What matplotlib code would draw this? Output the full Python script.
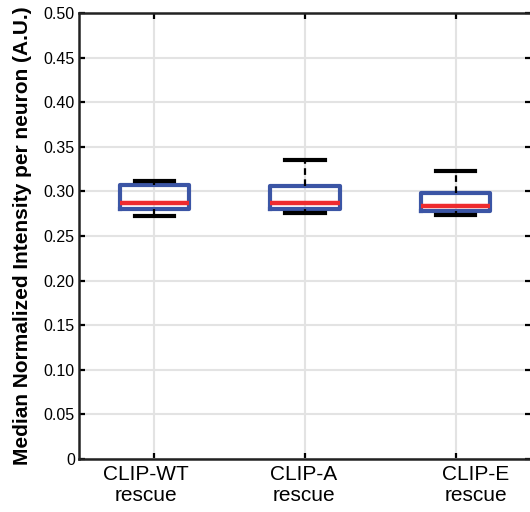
import matplotlib.pyplot as plt

groups = ["CLIP-WT\nrescue", "CLIP-A\nrescue", "CLIP-E\nrescue"]
q1 = [0.2807, 0.2800, 0.2784]
medians = [0.2874, 0.2874, 0.2840]
q3 = [0.3070, 0.3060, 0.2980]
whisker_low = [0.2725, 0.2755, 0.2736]
whisker_high = [0.3115, 0.3350, 0.3234]
y_ticks = [0, 0.05, 0.10, 0.15, 0.20, 0.25, 0.30, 0.35, 0.40, 0.45, 0.50]
positions = [1, 2, 3]

plt.rcParams["font.family"] = ["Liberation Sans", "DejaVu Sans"]

BLUE = "#3b55a5"
RED = "#ee2b2e"

fig = plt.figure(figsize=(5.3, 5.12), dpi=100)
ax = fig.add_axes([0.149, 0.1035, 0.853, 0.871])

stats = [dict(med=m, q1=a, q3=b, whislo=lo, whishi=hi, fliers=[], label=g)
         for g, a, m, b, lo, hi in zip(groups, q1, medians, q3, whisker_low, whisker_high)]

ax.bxp(stats, positions=positions, widths=0.46, capwidths=0.26, showfliers=False,
       boxprops=dict(color=BLUE, linewidth=3),
       medianprops=dict(color=RED, linewidth=3.2),
       whiskerprops=dict(color="black", linewidth=1.6, linestyle=(0, (3, 2))),
       capprops=dict(color="black", linewidth=3),
       zorder=3)

ax.set_xlim(0.5, 3.5)
ax.set_ylim(0, 0.5)
ax.set_yticks(y_ticks)
ax.set_yticklabels(["0"] + [f"{v:.2f}" for v in y_ticks[1:]])
ax.set_xticks(positions)
ax.set_xticklabels([])

# group names sit a little off their ticks in the original
for pos, name, dx in zip(positions, groups, [-5.8, -0.7, 14.4]):
    ax.annotate(name, xy=(pos, 0), xycoords=ax.get_xaxis_transform(),
                xytext=(dx, -4.5), textcoords="offset points",
                ha="center", va="top", fontsize=15, linespacing=1.1,
                multialignment="center")

ax.grid(True, color="#e3e3e3", linewidth=1.5, zorder=0)
ax.set_axisbelow(True)
ax.tick_params(direction="in", length=4.5, width=1.6, top=True, right=True, pad=3)
ax.tick_params(axis="y", labelsize=11.5)
for side in ax.spines.values():
    side.set_linewidth(1.8)
    side.set_color("#222222")

ax.set_ylabel("Median Normalized Intensity per neuron (A.U.)", fontsize=15,
              fontweight="bold", labelpad=8)

fig.savefig("out.png", dpi=100)
